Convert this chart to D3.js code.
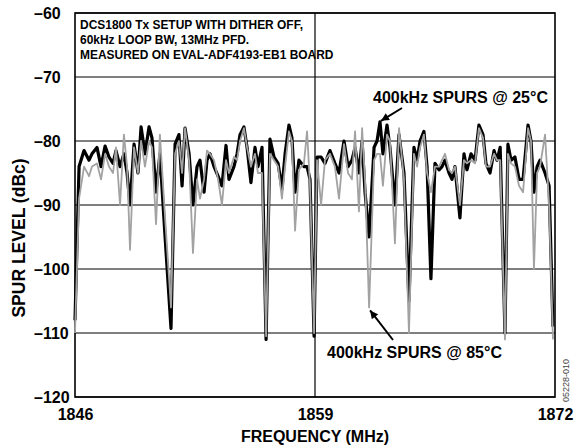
<!DOCTYPE html>
<html lang="en">
<head>
    <meta charset="UTF-8">
    <title>Spur level vs frequency</title>
    <script src="https://d3js.org/d3.v7.min.js"></script>
    <style>
        body{
            margin: 0;
            background: white;
        }
        text{
            font-family: Arial, "Liberation Sans", sans-serif;
            font-weight: bold;
            fill: black;
        }
    </style>
</head>
<body>

<script>
    // frequency in MHz
    const freq = [1846.00,1846.22,1846.49,1846.76,1846.92,1847.19,1847.41,1847.63,1847.84,1848.06,
        1848.22,1848.44,1848.65,1848.82,1848.98,1849.20,1849.41,1849.58,1849.79,1850.01,
        1850.17,1850.39,1850.60,1850.88,1851.20,1851.42,1851.63,1851.80,1851.96,1852.18,
        1852.39,1852.61,1852.77,1852.99,1853.15,1853.31,1853.53,1853.75,1853.96,1854.18,
        1854.34,1854.61,1854.78,1854.94,1855.15,1855.32,1855.53,1855.75,1855.91,1856.13,
        1856.35,1856.56,1856.78,1857.00,1857.21,1857.38,1857.59,1857.75,1857.92,1858.13,
        1858.40,1858.57,1858.73,1858.95,1859.11,1859.33,1859.54,1859.81,1860.08,1860.30,
        1860.57,1860.79,1861.00,1861.17,1861.38,1861.55,1861.71,1861.93,1862.20,1862.36,
        1862.52,1862.68,1862.90,1863.06,1863.33,1863.55,1863.82,1864.09,1864.36,1864.53,
        1864.69,1864.90,1865.07,1865.28,1865.50,1865.72,1865.88,1866.04,1866.26,1866.42,
        1866.58,1866.85,1867.07,1867.23,1867.45,1867.67,1867.88,1868.10,1868.26,1868.48,
        1868.70,1868.86,1869.03,1869.29,1869.45,1869.62,1869.83,1870.05,1870.27,1870.54,
        1870.70,1870.86,1871.03,1871.19,1871.46,1871.68,1871.89]

    // spur level (dBc) at 25 C, black trace
    const spur25 = [-108,-84,-81.5,-83,-82,-81,-84,-80.8,-82.5,-83.5,
        -81.5,-84,-82,-85,-90,-80.5,-85,-77.8,-82,-77.8,
        -79.5,-88,-82,-95,-109.3,-80.5,-79,-87,-78,-82,
        -90,-84,-83,-88,-83,-82,-84,-85.5,-87,-80.7,
        -86,-84,-82,-79,-77.8,-81,-86.5,-81,-84,-81,
        -111,-79.7,-82.5,-83.5,-87.5,-82,-77.5,-79.5,-88,-83,
        -84,-84,-86,-110.5,-82.5,-82.5,-83.5,-81.5,-83.5,-85,
        -80,-84,-83,-81,-85,-80,-88,-95,-81,-80,
        -77,-82,-77.5,-81,-90,-79,-85,-105,-81,-83,
        -80,-78.5,-84,-101.5,-83.5,-84.5,-84,-83,-85,-86,
        -84,-92,-82,-84.5,-82,-83,-77.5,-79,-83.5,-85,
        -81.5,-83,-81,-110,-80.5,-83,-82.5,-86,-86,-77.5,
        -80,-88,-84,-83,-85,-87,-109]

    // spur level (dBc) at 85 C, grey trace
    const spur85 = [-110,-89,-84,-85.5,-84,-83.5,-86,-82,-84,-85,
        -81,-90,-79,-84,-97,-81,-85,-80,-84,-80,
        -81,-93,-79,-92,-106,-82,-80,-85,-78,-83,
        -97.5,-86,-89,-86,-81.5,-82,-83,-86,-90,-83,
        -85,-82.5,-83,-80,-78,-81,-84,-82,-85,-85,
        -110.5,-82,-83,-84,-89,-84,-78.5,-80,-94,-84.5,
        -83.5,-78.5,-87,-110,-83,-90,-83,-82,-84,-89,
        -80.5,-85,-86,-78.5,-91,-78,-86,-106,-83,-82,
        -82,-87,-79,-80,-96,-78,-86,-110,-82,-84,
        -81,-79,-85,-88,-84,-84,-83,-82,-84.5,-85,
        -84,-90,-83,-83.5,-83,-83.5,-78,-79.5,-84,-84,
        -82,-83,-83,-111,-82,-83.5,-84,-87,-88,-78,
        -80,-100,-85,-84,-79,-90,-111]

    const xTicks = [1846, 1859, 1872]
    const yTicks = [-60, -70, -80, -90, -100, -110, -120]
    const titleLines = ["DCS1800 Tx SETUP WITH DITHER OFF,", "60kHz LOOP BW, 13MHz PFD.", "MEASURED ON EVAL-ADF4193-EB1 BOARD"]

    const svg = d3.select("body").append("svg")
        .attr("width", 574)
        .attr("height", 445)

    const x = d3.scaleLinear().domain([1846, 1872]).range([75, 555])
    const y = d3.scaleLinear().domain([-120, -60]).range([397, 13])

    const dash = d => String(d).replace("-", "\u2013")

    // horizontal grid
    svg.selectAll(".grid")
        .data(yTicks)
        .enter()
        .append("line")
        .attr("class", "grid")
        .attr("x1", 75).attr("x2", 555)
        .attr("y1", d => y(d)).attr("y2", d => y(d))
        .attr("stroke", "black")
        .attr("stroke-width", 1.2)

    // vertical line at the centre channel
    svg.append("line")
        .attr("x1", x(1859)).attr("x2", x(1859))
        .attr("y1", y(-60)).attr("y2", y(-120))
        .attr("stroke", "black")
        .attr("stroke-width", 1.2)

    svg.append("rect")
        .attr("x", 75).attr("y", 13)
        .attr("width", 480).attr("height", 384)
        .attr("fill", "none")
        .attr("stroke", "black")
        .attr("stroke-width", 1.6)

    // axes, labels only
    const yAxis = svg.append("g")
        .attr("transform", "translate(75,0)")
        .call(d3.axisLeft(y).tickValues(yTicks).tickSize(0).tickFormat(dash))
    yAxis.select(".domain").remove()
    yAxis.selectAll("text")
        .attr("text-anchor", "start")
        .attr("x", -41)
        .style("font-size", "16px")
        .style("font-family", "Arial, 'Liberation Sans', sans-serif")
        .style("font-weight", "bold")

    const xAxis = svg.append("g")
        .attr("transform", "translate(0,397)")
        .call(d3.axisBottom(x).tickValues(xTicks).tickSize(0).tickFormat(d3.format("d")))
    xAxis.select(".domain").remove()
    xAxis.selectAll("text")
        .attr("y", 12)
        .style("font-size", "16px")
        .style("font-family", "Arial, 'Liberation Sans', sans-serif")
        .style("font-weight", "bold")

    svg.append("text")
        .attr("x", 315).attr("y", 442)
        .attr("text-anchor", "middle")
        .style("font-size", "16px")
        .text("FREQUENCY (MHz)")

    svg.append("text")
        .attr("transform", "translate(25,238) rotate(-90)")
        .attr("text-anchor", "middle")
        .style("font-size", "17.5px")
        .text("SPUR LEVEL (dBc)")

    // traces
    const line25 = d3.line().x((d, i) => x(freq[i])).y(d => y(d))

    svg.append("path")
        .datum(spur25)
        .attr("d", line25)
        .attr("fill", "none")
        .attr("stroke", "black")
        .attr("stroke-width", 3.2)
        .attr("stroke-linejoin", "round")

    svg.append("path")
        .datum(spur85)
        .attr("d", line25)
        .attr("fill", "none")
        .attr("stroke", "#a2a2a2")
        .attr("stroke-width", 1.8)
        .attr("stroke-linejoin", "round")

    // title block, slightly condensed like the original
    svg.append("text")
        .attr("transform", "translate(80,29) scale(0.92,1)")
        .style("font-size", "13px")
        .selectAll("tspan")
        .data(titleLines)
        .enter()
        .append("tspan")
        .attr("x", 0)
        .attr("dy", (d, i) => i == 0 ? 0 : 15)
        .text(d => d)

    // arrows
    svg.append("defs").append("marker")
        .attr("id", "head")
        .attr("viewBox", "0 0 10 10")
        .attr("refX", 10).attr("refY", 5)
        .attr("markerWidth", 5).attr("markerHeight", 4)
        .attr("markerUnits", "strokeWidth")
        .attr("orient", "auto")
        .append("path")
        .attr("d", "M0,0L10,5L0,10Z")
        .attr("fill", "black")

    svg.append("line")
        .attr("x1", 402).attr("y1", 108)
        .attr("x2", x(1862.52) + 1).attr("y2", y(-77) - 1)
        .attr("stroke", "black").attr("stroke-width", 2)
        .attr("marker-end", "url(#head)")

    svg.append("line")
        .attr("x1", 393).attr("y1", 340)
        .attr("x2", x(1861.93) + 1).attr("y2", y(-106) + 3)
        .attr("stroke", "black").attr("stroke-width", 2)
        .attr("marker-end", "url(#head)")

    svg.append("text")
        .attr("x", 373).attr("y", 103)
        .style("font-size", "16px")
        .text("400kHz SPURS @ 25\u00B0C")

    svg.append("text")
        .attr("x", 327).attr("y", 358)
        .style("font-size", "16px")
        .text("400kHz SPURS @ 85\u00B0C")

    svg.append("text")
        .attr("transform", "translate(569,402) rotate(-90)")
        .style("font-size", "9px")
        .style("font-weight", "normal")
        .style("fill", "#444")
        .text("05228-010")
</script>
</body>
</html>
